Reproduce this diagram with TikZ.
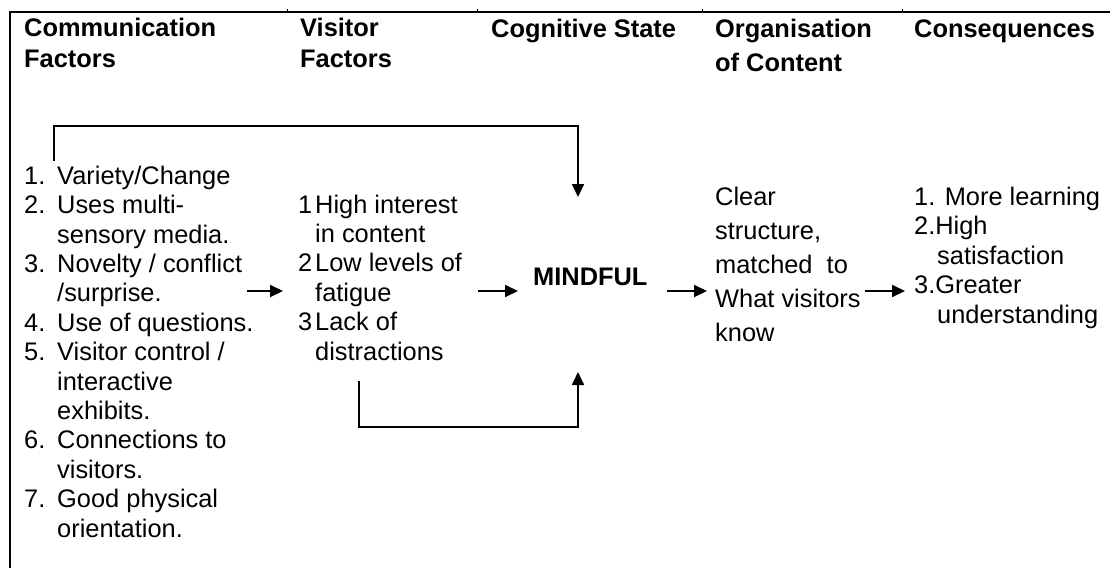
\documentclass[tikz,border=0pt]{standalone}
\usepackage{fontspec}
\setmainfont{Liberation Sans}
\usetikzlibrary{arrows.meta}

\begin{document}
\begin{tikzpicture}[x=1pt, y=-1pt,
  every node/.style={inner sep=0pt, anchor=base west, align=left, font=\fontsize{25.4}{29.4}\selectfont},
  head/.style={font=\fontsize{25.4}{30.5}\selectfont\bfseries},
  flow/.style={-{Triangle[length=13pt, width=12pt]}, line width=2pt},
  loop/.style={-{Triangle[length=13pt, width=12pt]}, line width=1.7pt}]
\useasboundingbox (0,0) rectangle (1110,568);

% Frame and column ticks
\draw[line width=1.2pt] (10,568) -- (10,12) -- (1110,12);
\foreach \x in {287,477,702,902} \draw[line width=1pt] (\x,9) -- (\x,12);

% Column headings (placed at the baseline of their last line)
\node[head] (hcom) at (24,67) {Communication\\Factors};
\node[head] (hvis) at (300,67) {Visitor\\Factors};
\node[head] (hcog) at (491,37) {Cognitive State};
\node[head, font=\fontsize{25.4}{34}\selectfont\bfseries] (horg) at (715,71) {Organisation\\of Content};
\node[head] (hcon) at (914,37) {Consequences};

% Column contents
\node (com) at (24,537) {\makebox[33pt][l]{1.}Variety/Change\\
  \makebox[33pt][l]{2.}Uses multi-\\
  \hspace*{33pt}sensory media.\\
  \makebox[33pt][l]{3.}Novelty / conflict\\
  \hspace*{33pt}/surprise.\\
  \makebox[33pt][l]{4.}Use of questions.\\
  \makebox[33pt][l]{5.}Visitor control /\\
  \hspace*{33pt}interactive\\
  \hspace*{33pt}exhibits.\\
  \makebox[33pt][l]{6.}Connections to\\
  \hspace*{33pt}visitors.\\
  \makebox[33pt][l]{7.}Good physical\\
  \hspace*{33pt}orientation.};
\node (vis) at (298,360) {\makebox[17pt][l]{1}High interest\\
  \hspace*{17pt}in content\\
  \makebox[17pt][l]{2}Low levels of\\
  \hspace*{17pt}fatigue\\
  \makebox[17pt][l]{3}Lack of\\
  \hspace*{17pt}distractions};
\node[font=\fontsize{25.4}{29.4}\selectfont\bfseries] (mind) at (533,285) {MINDFUL};
\node[font=\fontsize{25.4}{34}\selectfont] (org) at (715,341) {Clear\\structure,\\matched\ \ to\\What visitors\\know};
\node (con) at (914,323) {1. More learning\\
  2.High\\
  \hspace*{23pt}satisfaction\\
  3.Greater\\
  \hspace*{23pt}understanding};

% Arrow ends
\coordinate (a1s) at (247,291); \coordinate (a1e) at (283,291);
\coordinate (a2s) at (478,291); \coordinate (a2e) at (518,291);
\coordinate (a3s) at (667,291); \coordinate (a3e) at (707,291);
\coordinate (a4s) at (865,291); \coordinate (a4e) at (905,291);
\coordinate (ts) at (54,161); \coordinate (te) at (578,197);
\coordinate (bs) at (359,381); \coordinate (be) at (578,372);

% Arrows
\draw[flow] (a1s) -- (a1e);
\draw[flow] (a2s) -- (a2e);
\draw[flow] (a3s) -- (a3e);
\draw[flow] (a4s) -- (a4e);

% Feedback loops
\draw[loop] (ts) |- (578,126) -- (te);
\draw[loop] (bs) |- (578,427) -- (be);
\end{tikzpicture}
\end{document}
